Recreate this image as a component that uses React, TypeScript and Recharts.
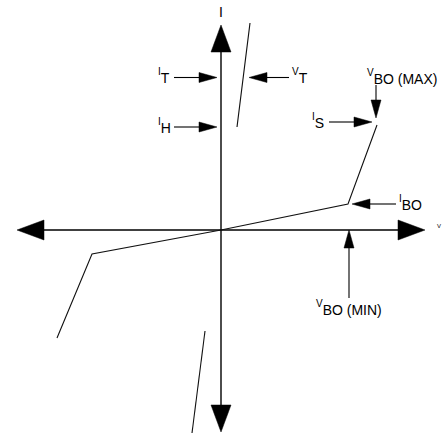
import React from 'react';
import { ComposedChart, XAxis, YAxis, Scatter, ReferenceLine, ReferenceDot } from 'recharts';

// I-V characteristic (schematic units: V horizontal, I vertical)
const forwardBranch = [
  { v: 0, i: 0 },
  { v: 127, i: 26 },
  { v: 156, i: 105 },
];
const reverseBranch = [
  { v: 0, i: 0 },
  { v: -129, i: -24 },
  { v: -164, i: -108 },
];
const onStateForward = [
  { v: 16, i: 103 },
  { v: 29, i: 207 },
];
const onStateReverse = [
  { v: -16, i: -101 },
  { v: -29, i: -203 },
];

// axis extents
const axisEnds = [
  { v: 0, i: 205 },
  { v: 0, i: -202 },
  { v: -204, i: 0 },
  { v: 204, i: 0 },
];

// annotation arrows: [fromV, fromI, toV, toI]
const pointerArrows = [
  { id: 'IT', from: [-47, 152.5], to: [-4, 152.5] },
  { id: 'IH', from: [-47, 103], to: [-4, 103] },
  { id: 'VT', from: [68, 152.5], to: [28, 152.5] },
  { id: 'IS', from: [108, 108], to: [151, 108] },
  { id: 'VBOMAX', from: [155, 145], to: [155, 112] },
  { id: 'IBO', from: [175, 26], to: [131, 26] },
  { id: 'VBOMIN', from: [128, -68], to: [128, 0] },
];

// labels: lead letter (small, raised) + subscript text
const labels = [
  { lead: 'I', tail: 'T', v: -63, i: 147 },
  { lead: 'I', tail: 'H', v: -63, i: 97 },
  { lead: 'V', tail: 'T', v: 71, i: 147 },
  { lead: 'I', tail: 'S', v: 91, i: 102 },
  { lead: 'V', tail: 'BO (MAX)', v: 146, i: 146 },
  { lead: 'I', tail: 'BO', v: 178, i: 20 },
  { lead: 'V', tail: 'BO (MIN)', v: 95, i: -85 },
];
const axisLabels = [
  { text: 'I', v: 0, i: 213, size: 14 },
  { text: 'V', v: 216, i: 2, size: 6 },
];

const FONT = '"Liberation Sans", Arial, sans-serif';

function makeArrow(len: number, half: number, sw: number) {
  return (p: any) => {
    const { x1, y1, x2, y2 } = p;
    const dx = x2 - x1;
    const dy = y2 - y1;
    const L = Math.hypot(dx, dy) || 1;
    const ux = dx / L;
    const uy = dy / L;
    const bx = x2 - ux * len;
    const by = y2 - uy * len;
    const px = -uy * half;
    const py = ux * half;
    const pts = `${x2},${y2} ${bx + px},${by + py} ${bx - px},${by - py}`;
    return (
      <g>
        <line x1={x1} y1={y1} x2={bx} y2={by} stroke="#000" strokeWidth={sw} />
        <polygon points={pts} fill="#000" stroke="#000" strokeWidth={0.5} />
      </g>
    );
  };
}

const bigArrow = makeArrow(27, 10, 1.4);
const smallArrow = makeArrow(18, 5, 1.1);

const noDot = () => <g />;

export default function App() {
  return (
    <div style={{ position: 'absolute', left: 0, top: 0, width: 442, height: 434, background: '#fff' }}>
      <ComposedChart width={442} height={434} margin={{ top: 0, right: 0, bottom: 0, left: 0 }}>
        <XAxis type="number" dataKey="v" domain={[-221, 221]} hide allowDataOverflow />
        <YAxis type="number" dataKey="i" domain={[-204, 230]} hide allowDataOverflow />
        {axisEnds.map((e, k) => (
          <ReferenceLine
            key={'ax' + k}
            segment={[{ x: 0, y: 0 }, { x: e.v, y: e.i }]}
            ifOverflow="visible"
            shape={bigArrow}
          />
        ))}
        {[forwardBranch, reverseBranch, onStateForward, onStateReverse].map((d, k) => (
          <Scatter
            key={'br' + k}
            data={d}
            line={{ stroke: '#111', strokeWidth: 1.1 }}
            lineType="joint"
            shape={noDot}
            isAnimationActive={false}
            legendType="none"
          />
        ))}
        {pointerArrows.map((a) => (
          <ReferenceLine
            key={a.id}
            segment={[{ x: a.from[0], y: a.from[1] }, { x: a.to[0], y: a.to[1] }]}
            ifOverflow="visible"
            shape={smallArrow}
          />
        ))}
        {labels.map((l, k) => (
          <ReferenceDot
            key={'lb' + k}
            x={l.v}
            y={l.i}
            ifOverflow="visible"
            shape={(p: any) => (
              <text x={p.cx} y={p.cy} fontFamily={FONT} fill="#000">
                <tspan fontSize={10} dy={-8}>{l.lead}</tspan>
                <tspan fontSize={14} dy={8}>{l.tail}</tspan>
              </text>
            )}
          />
        ))}
        {axisLabels.map((l, k) => (
          <ReferenceDot
            key={'al' + k}
            x={l.v}
            y={l.i}
            ifOverflow="visible"
            shape={(p: any) => (
              <text x={p.cx} y={p.cy} fontFamily={FONT} fontSize={l.size} textAnchor={k === 0 ? 'middle' : 'start'} fill="#000">
                {l.text}
              </text>
            )}
          />
        ))}
      </ComposedChart>
    </div>
  );
}
